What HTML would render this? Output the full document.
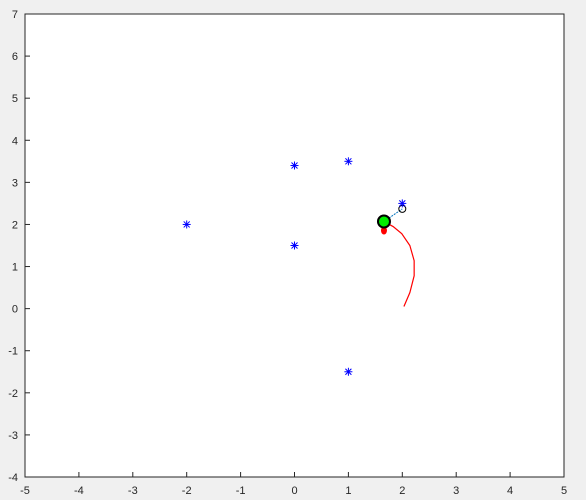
<!DOCTYPE html>
<html><head><meta charset="utf-8"><style>
body{margin:0;background:#f0f0f0;width:586px;height:500px;overflow:hidden}
svg{display:block;font-family:"Liberation Sans",sans-serif}
</style></head><body>
<svg id="c" width="586" height="500"></svg>
<script>
const xTicks=[-5,-4,-3,-2,-1,0,1,2,3,4,5];
const yTicks=[-4,-3,-2,-1,0,1,2,3,4,5,6,7];
const starX=[-2,0,0,1,1,2];
const starY=[2,3.4,1.5,3.5,-1.5,2.5];
const arcX=[2.03,2.14,2.22,2.22,2.14,1.99,1.83,1.70];
const arcY=[0.05,0.38,0.78,1.14,1.50,1.78,1.95,2.04];
const robot=[1.66,2.07];
const target=[2.0,2.37];
const NS="http://www.w3.org/2000/svg";
const L=25,R=564,T=14,B=477;
const sx=v=>L+(v+5)/10*(R-L);
const sy=v=>B-(v+4)/11*(B-T);
const svg=document.getElementById('c');
function mk(t,a){const e=document.createElementNS(NS,t);for(const k in a)e.setAttribute(k,a[k]);svg.appendChild(e);return e;}
let e=mk('rect',{x:L,y:T,width:R-L,height:B-T,fill:'#fff',stroke:'#262626','stroke-width':1});


xTicks.forEach(v=>{
 const x=sx(v);
 let t=mk('line',{x1:x,x2:x,y1:B,y2:B-5,stroke:'#262626'});
 
 
 let tx=mk('text',{x:x,y:B+17,'text-anchor':'middle','font-size':11,fill:'#262626'});
 tx.textContent=v;
 
 
});
yTicks.forEach(v=>{
 const y=sy(v);
 let t=mk('line',{x1:L,x2:L+5,y1:y,y2:y,stroke:'#262626'});
 
 
 let tx=mk('text',{x:L-7,y:y+4,'text-anchor':'end','font-size':11,fill:'#262626'});
 tx.textContent=v;
 
 
});
let p=mk('polyline',{points:arcX.map((x,i)=>sx(x)+','+sy(arcY[i])).join(' '),fill:'none',stroke:'red','stroke-width':1.2});


let blob=mk('ellipse',{cx:sx(robot[0])+0,cy:sy(robot[1])+9,rx:3,ry:4,fill:'red'});


let ln=mk('line',{x1:sx(robot[0]),y1:sy(robot[1]),x2:sx(target[0]),y2:sy(target[1]),stroke:'#0072bd','stroke-dasharray':'2,1'});


let tc=mk('circle',{cx:sx(target[0]),cy:sy(target[1]),r:3.5,fill:'none',stroke:'#000'});


starX.forEach((x,i)=>{
 const cx=sx(x),cy=sy(starY[i]);
 const g=document.createElementNS(NS,'g');svg.appendChild(g);
 
 
 [[-4,0,4,0],[0,-4,0,4],[-3,-3,3,3],[-3,3,3,-3]].forEach(d=>{
  const l=document.createElementNS(NS,'line');
  l.setAttribute('x1',cx+d[0]);l.setAttribute('y1',cy+d[1]);l.setAttribute('x2',cx+d[2]);l.setAttribute('y2',cy+d[3]);
  l.setAttribute('stroke','#0000ff');l.setAttribute('stroke-width',1);
  g.appendChild(l);
 });
});
let rc=mk('circle',{cx:sx(robot[0]),cy:sy(robot[1]),r:6,fill:'#00ee00',stroke:'#000','stroke-width':2});


</script>
</body></html>
